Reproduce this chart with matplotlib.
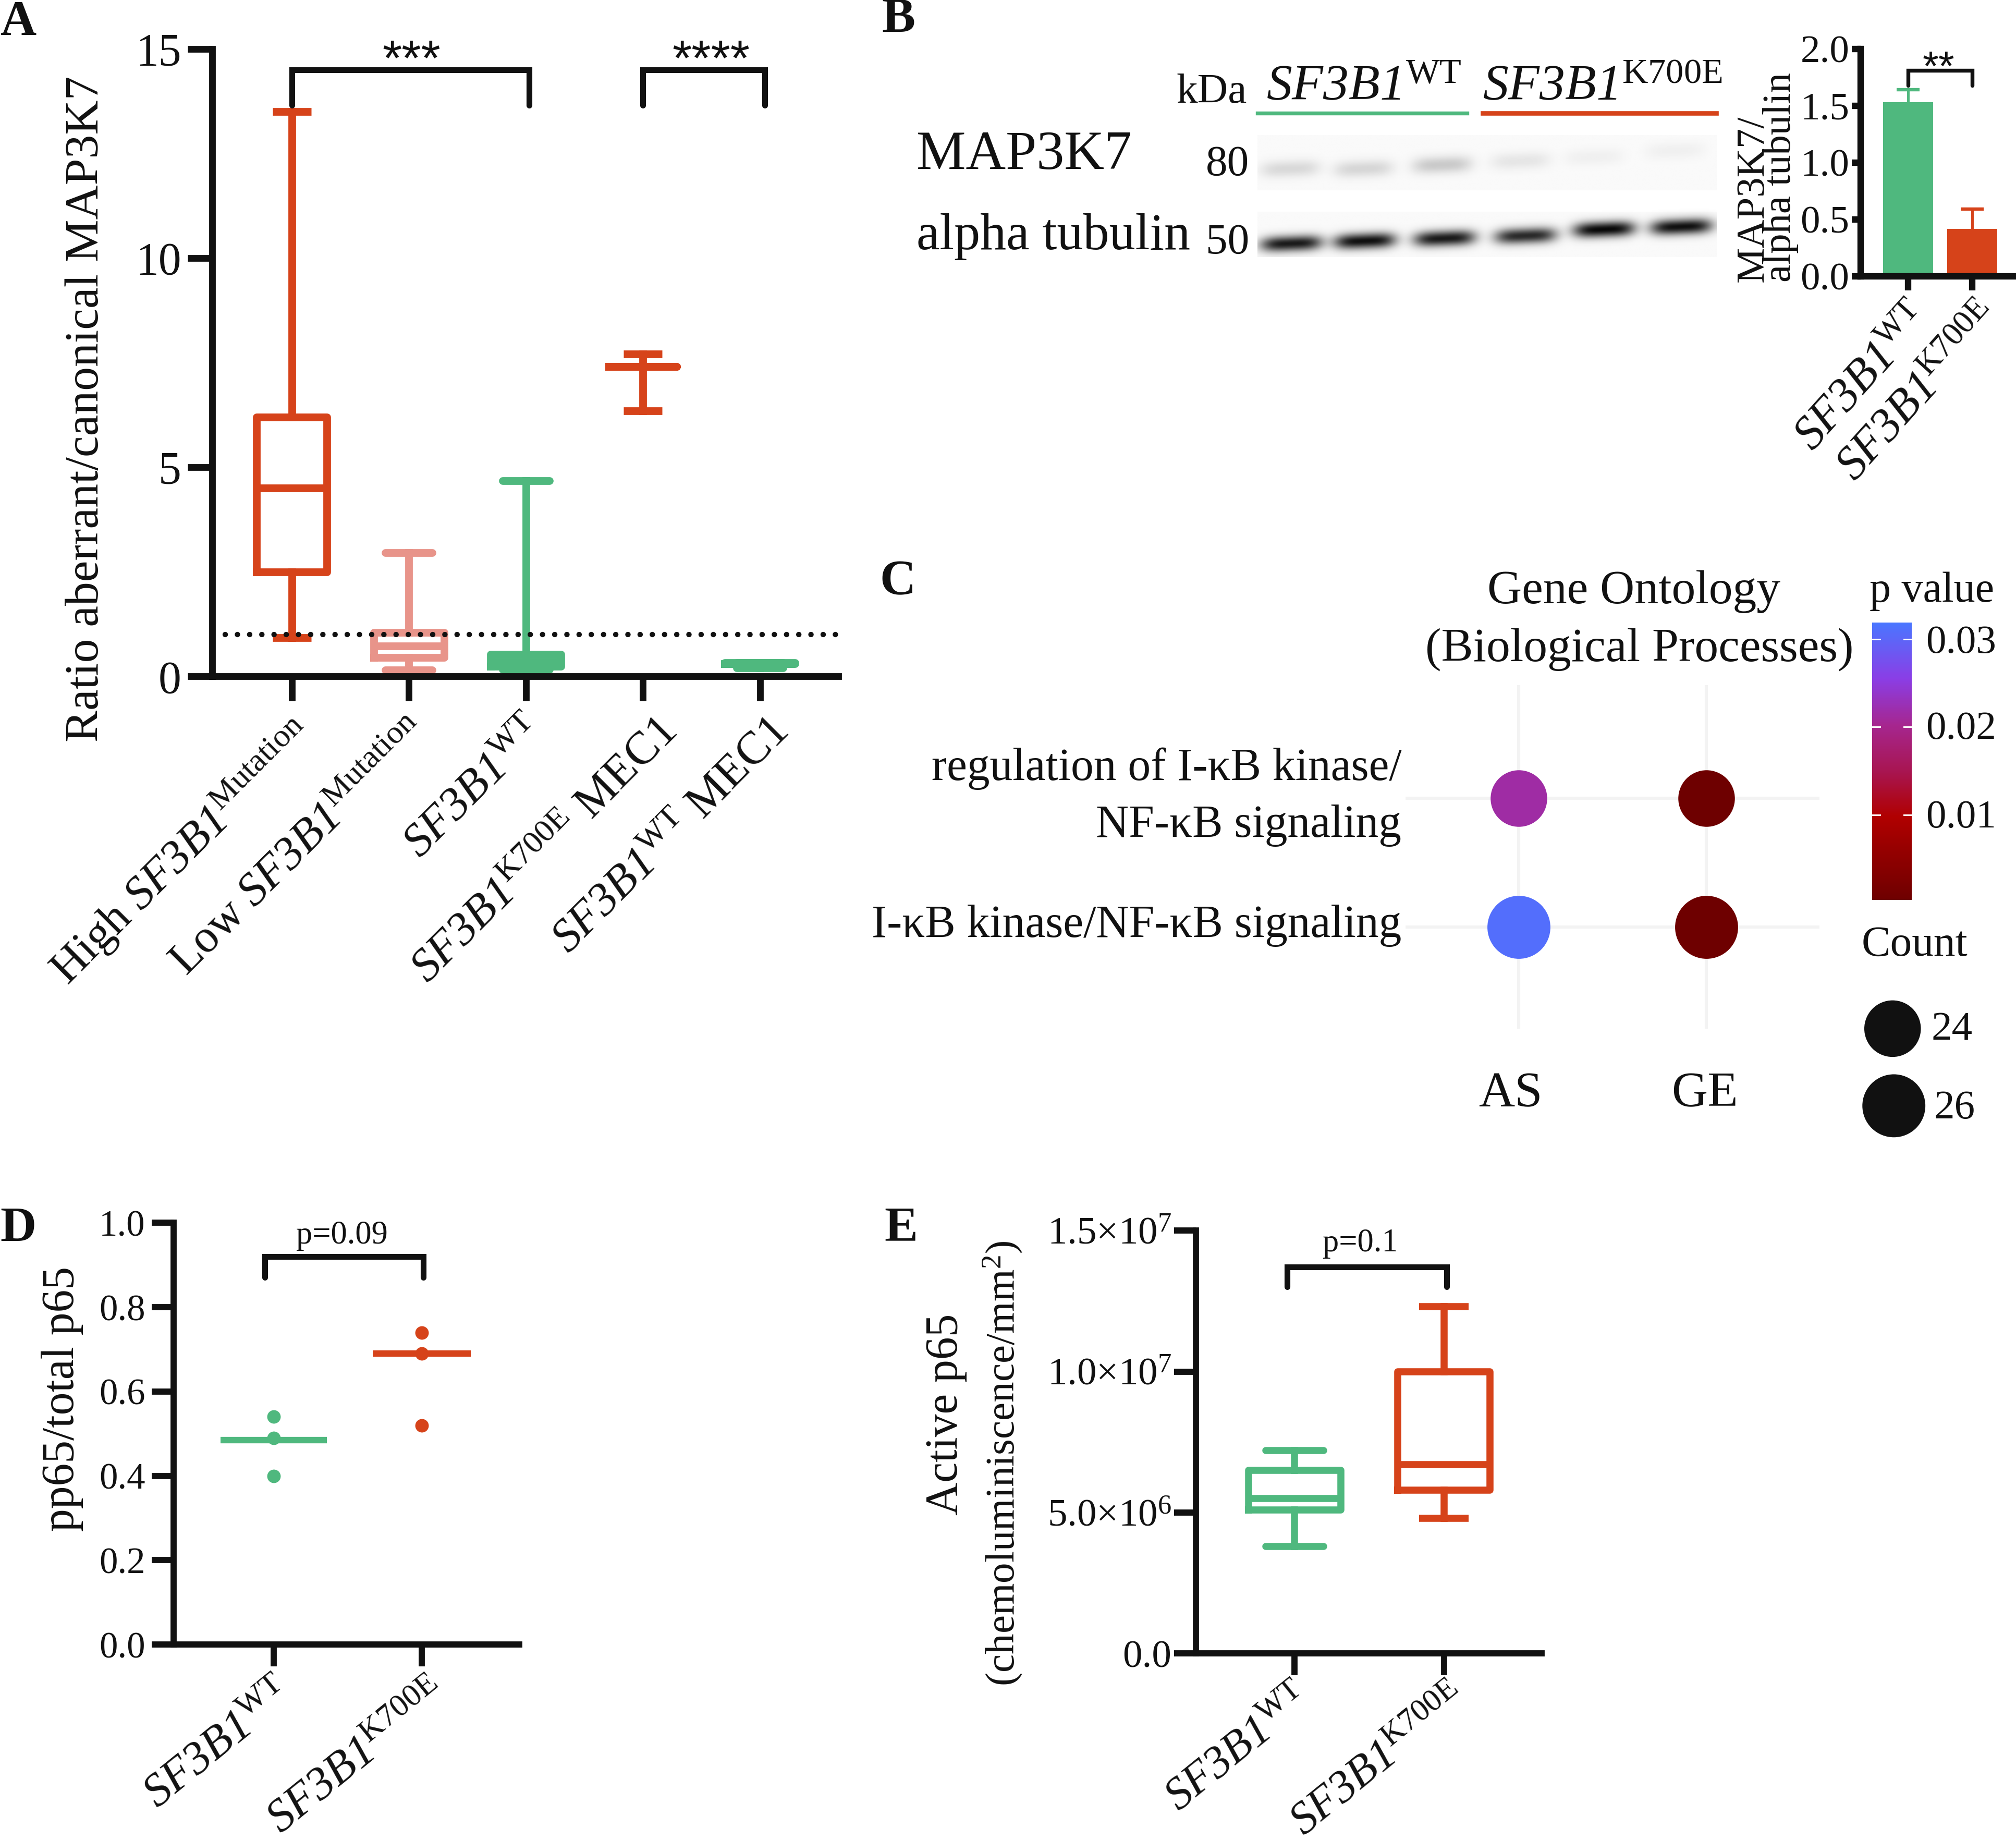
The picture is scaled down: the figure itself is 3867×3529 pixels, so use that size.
import numpy as np
import matplotlib
matplotlib.use("Agg")
import matplotlib.pyplot as plt
from matplotlib.colors import LinearSegmentedColormap, Normalize
from matplotlib.cm import ScalarMappable
from matplotlib.transforms import ScaledTranslation

plt.rcParams['font.family'] = ['Liberation Serif', 'DejaVu Serif']
plt.rcParams['mathtext.fontset'] = 'custom'
plt.rcParams['mathtext.rm'] = 'Liberation Serif'
plt.rcParams['mathtext.it'] = 'Liberation Serif:italic'
plt.rcParams['mathtext.cal'] = 'Liberation Serif:italic'
plt.rcParams['mathtext.bf'] = 'Liberation Serif:bold'

RED = '#d6431a'
GREEN = '#4fb87e'
PINK = '#e8948a'
BLACK = '#111111'

# panel A, box stats: low whisker, q1, median, q3, high whisker
a_labels = [r'High $\mathcal{SF3B1}^{\mathrm{Mutation}}$', r'Low $\mathcal{SF3B1}^{\mathrm{Mutation}}$',
            r'$\mathcal{SF3B1}^{\mathrm{WT}}$', r'$\mathcal{SF3B1}^{\mathrm{K700E}}$ MEC1',
            r'$\mathcal{SF3B1}^{\mathrm{WT}}$ MEC1']
a_low = [0.93, 0.15, 0.17, 6.35, 0.2]
a_q1 = [2.5, 0.45, 0.24, 7.4, 0.3]
a_med = [4.5, 0.72, 0.35, 7.4, 0.3]
a_q3 = [6.2, 1.05, 0.52, 7.4, 0.33]
a_high = [13.5, 2.95, 4.68, 7.7, 0.33]
a_colors = [RED, PINK, GREEN, RED, GREEN]
a_widths = [0.6, 0.6, 0.6, 0.58, 0.6]
a_caps = [0.33, 0.4, 0.4, 0.33, 0.4]

# panel B, densitometry
b_labels = [r'$\mathcal{SF3B1}^{\mathrm{WT}}$', r'$\mathcal{SF3B1}^{\mathrm{K700E}}$']
b_means = [1.53, 0.42]
b_errs = [0.11, 0.17]

# panel B, blot lanes (picture pixels)
map3k7_x = [1003, 1060, 1121, 1182, 1239, 1302]
map3k7_y = [131, 131, 128, 125, 122, 117]
map3k7_int = [0.13, 0.14, 0.19, 0.08, 0.04, 0.04]
tubulin_x = [1004, 1061, 1123, 1186, 1247, 1307]
tubulin_y = [189, 187, 185, 183, 178, 176]
tubulin_int = [0.88, 0.92, 0.88, 0.82, 0.95, 0.92]

# panel C
c_terms = ['regulation of I-κB kinase/\nNF-κB signaling', 'I-κB kinase/NF-κB signaling']
c_groups = ['AS', 'GE']
c_pvals = [[0.0215, 0.0004], [0.031, 0.0004]]
c_counts = [[24, 24], [26, 26]]
c_legend_counts = [24, 26]
c_ticks = [0.01, 0.02, 0.03]

# panel D
d_wt = [0.54, 0.49, 0.40]
d_mut = [0.74, 0.69, 0.52]
d_med = [0.485, 0.69]

# panel E
e_low = [3.8e6, 4.8e6]
e_q1 = [5.1e6, 5.8e6]
e_med = [5.5e6, 6.7e6]
e_q3 = [6.5e6, 1.0e7]
e_high = [7.2e6, 1.23e7]
e_ticks = [0, 5e6, 1e7, 1.5e7]
e_ticklabels = ['0.0', r'5.0×10$^{6}$', r'1.0×10$^{7}$', r'1.5×10$^{7}$']

W, H = 1568.0, 1431.0   # layout units, the picture at reduced size
PX = 2.466 * 72 / 300   # one layout unit in points

fig = plt.figure(figsize=(3867 / 300, 3529 / 300), dpi=300)


def axes_px(left, top, right, bottom):
    return fig.add_axes([left / W, 1 - bottom / H, (right - left) / W, (bottom - top) / H])


def text_px(x, y, s, size, **kw):
    kw.setdefault('ha', 'left')
    kw.setdefault('va', 'center')
    kw.setdefault('color', BLACK)
    return fig.text(x / W, 1 - y / H, s, fontsize=size, **kw)


def style_axes(ax, width=5.0, ticklen=18):
    for side in ['top', 'right']:
        ax.spines[side].set_visible(False)
    for side in ['left', 'bottom']:
        ax.spines[side].set_linewidth(width * PX)
        ax.spines[side].set_color(BLACK)
    ax.tick_params(width=width * PX, length=ticklen * PX, color=BLACK, labelcolor=BLACK)
    ax.patch.set_alpha(0)


def ylabel_px(ax, x, y, s, size, **kw):
    ax.set_ylabel(s, fontsize=size, color=BLACK, **kw)
    ax.yaxis.set_label_coords(x / W, 1 - y / H, transform=fig.transFigure)


def rot_labels(ax, labels, size, angle=45, pad=3.5, shifts=None):
    ax.tick_params(axis='x', pad=pad)
    ax.set_xticklabels(labels, rotation=angle, ha='right', va='top', rotation_mode='anchor', fontsize=size)
    for i, lab in enumerate(ax.get_xticklabels()):
        dx = shifts[i] if shifts else 0
        lab.set_transform(lab.get_transform() + ScaledTranslation(dx * PX / 72, 0, fig.dpi_scale_trans))


def bracket(ax, x0, x1, y, drop, width=3.0):
    ax.plot([x0, x0, x1, x1], [y - drop, y, y, y - drop], color=BLACK, lw=width * PX * 1.5,
            clip_on=False, solid_capstyle='round', solid_joinstyle='miter')


def boxes(ax, low, q1, med, q3, high, colors, widths, caps, lw):
    for i in range(len(low)):
        stats = [dict(whislo=low[i], q1=q1[i], med=med[i], q3=q3[i], whishi=high[i], fliers=[])]
        st = dict(color=colors[i], linewidth=lw * PX)
        cap = dict(color=colors[i], linewidth=lw * PX, solid_capstyle='butt' if colors[i] == RED else 'round')
        ax.bxp(stats, positions=[i], widths=[widths[i]], capwidths=[caps[i]], boxprops=st, medianprops=st,
               whiskerprops=st, capprops=cap, showfliers=False, manage_ticks=False)
    for artist in ax.lines:
        artist.set_clip_on(False)


# ---------- A
ax = axes_px(165, 38, 652, 526)
ax.set_xlim((165 - 227) / 91.0, (652 - 227) / 91.0)
ax.set_ylim(0, 15)
boxes(ax, a_low, a_q1, a_med, a_q3, a_high, a_colors, a_widths, a_caps, 6)
ax.plot([-0.57, 4.67], [1, 1], color=BLACK, lw=4.2 * PX, ls=(0, (0.01, 2.25)), dash_capstyle='round',
        clip_on=False, zorder=5)
style_axes(ax, 5.2, 19)
ax.set_yticks([0, 5, 10, 15])
ax.set_xticks(range(5))
ax.tick_params(axis='y', labelsize=21, pad=3)
rot_labels(ax, a_labels, 21.4, pad=4.5, shifts=[-2, -2, -2, 9, 5])
ylabel_px(ax, 84, 318, 'Ratio aberrant/canonical MAP3K7', 22)
bracket(ax, 0.0, 2.03, 14.5, 0.85)
bracket(ax, 3.0, 4.04, 14.5, 0.85)
text_px(320, 48, '***', 23, ha='center', family='Liberation Sans')
text_px(553, 48, '****', 23, ha='center', family='Liberation Sans')

# ---------- B blot
blot = axes_px(978, 105, 1335, 200)
xs = np.arange(978, 1335)
ys = np.arange(105, 200)
gx, gy = np.meshgrid(xs, ys)
dark = np.zeros(gx.shape)
dark[(gy < 148) | (gy >= 165)] = 0.02
for cx, cy, amp in zip(map3k7_x, map3k7_y, map3k7_int):
    band = np.exp(-((gx - cx) / 23.0) ** 4) * np.exp(-((gy - cy + 0.04 * (gx - cx)) / 6.5) ** 2)
    dark += amp * band
for cx, cy, amp in zip(tubulin_x, tubulin_y, tubulin_int):
    band = np.exp(-((gx - cx) / 24.0) ** 4) * np.exp(-((gy - cy + 0.04 * (gx - cx)) / 6.0) ** 2)
    dark += amp * band
blot.imshow(1 - np.clip(dark, 0, 1), cmap='gray', vmin=0, vmax=1, aspect='auto', interpolation='bilinear')
blot.axis('off')

text_px(915, 72, 'kDa', 19.5)
text_px(985, 68, r'$\mathcal{SF3B1}^{\mathrm{WT}}$', 23.5)
text_px(1153, 68, r'$\mathcal{SF3B1}^{\mathrm{K700E}}$', 23.5)
fig.add_artist(plt.Line2D([978 / W, 1141 / W], [1 - 88 / H] * 2, color=GREEN, lw=3 * PX))
fig.add_artist(plt.Line2D([1153 / W, 1335 / W], [1 - 88 / H] * 2, color=RED, lw=3.5 * PX))
text_px(713, 121, 'MAP3K7', 25.5)
text_px(713, 184, 'alpha tubulin', 24)
text_px(938, 128, '80', 20)
text_px(938, 189, '50', 20)

# ---------- B bars
ax = axes_px(1447, 38, 1568, 215)
ax.set_xlim((1447 - 1484) / 50.0, (1568 - 1484) / 50.0)
ax.set_ylim(0, 2)
ax.bar([0, 1], b_means, width=0.78, color=[GREEN, RED])
for i, col in enumerate([GREEN, RED]):
    eb = ax.errorbar(i, b_means[i], yerr=[[0], [b_errs[i]]], color=col, lw=2 * PX, capsize=9 * PX,
                     capthick=2.6 * PX, fmt='none')
    eb[1][0].set_visible(False)
style_axes(ax, 5, 11)
ax.set_xticks([0, 1])
ax.set_yticks([0, 0.5, 1, 1.5, 2])
ax.set_yticklabels(['0.0', '0.5', '1.0', '1.5', '2.0'])
ax.tick_params(axis='y', labelsize=18, pad=1, length=7 * PX)
rot_labels(ax, b_labels, 21.5, 48, pad=3, shifts=[0, 4])
ylabel_px(ax, 1399, 138, 'MAP3K7/\nalpha tubulin', 18.4, linespacing=0.68, multialignment='left')
bracket(ax, 0.0, 1.0, 1.81, 0.13, 2.0)
text_px(1508, 54, '**', 19, ha='center', family='Liberation Sans')

# ---------- C
ax = axes_px(1093, 533, 1415, 800)
ax.set_xlim(-(1181 - 1093) / 146.0, (1415 - 1181) / 146.0)
ax.set_ylim(1 + (800 - 721) / 100.0, -(621 - 533) / 100.0)
for side in ax.spines.values():
    side.set_visible(False)
ax.grid(True, color='#f3f3f3', lw=2.5 * PX)
ax.set_axisbelow(True)
ax.set_xticks([0, 1])
ax.set_yticks([0, 1])
ax.tick_params(length=0, labelbottom=False, labelleft=False)
cmap = LinearSegmentedColormap.from_list('pv', [(0, '#6e0000'), (0.3, '#b00000'), (0.46, '#a81550'), (0.63, '#a6268f'),
                                                (0.8, '#8a3ee6'), (1, '#4a76ff')])
norm = Normalize(0.0003, 0.0319)
diam = {24: 44, 26: 49}
for r in range(2):
    for c in range(2):
        s = (diam[c_counts[r][c]] * PX) ** 2
        ax.scatter(c, r, s=s, c=[c_pvals[r][c]], cmap=cmap, norm=norm, linewidths=0, zorder=3)

text_px(1271, 460, 'Gene Ontology', 22, ha='center')
text_px(1275, 505, '(Biological Processes)', 22, ha='center')
text_px(1090, 598, c_terms[0].split('\n')[0], 21, ha='right')
text_px(1090, 642, c_terms[0].split('\n')[1], 21, ha='right')
text_px(1090, 720, c_terms[1], 21, ha='right')
text_px(1175, 851, c_groups[0], 23, ha='center')
text_px(1326, 851, c_groups[1], 23, ha='center')

cax = axes_px(1456, 484, 1487, 700)
cb = fig.colorbar(ScalarMappable(norm=norm, cmap=cmap), cax=cax)
cb.outline.set_visible(False)
cb.set_ticks(c_ticks)
cb.set_ticklabels([])
cax.tick_params(length=0)
for t in c_ticks:
    cax.plot([0, 0.2], [t, t], color='white', lw=1.2 * PX, transform=cax.get_yaxis_transform())
    cax.plot([0.8, 1], [t, t], color='white', lw=1.2 * PX, transform=cax.get_yaxis_transform())
text_px(1454, 460, 'p value', 19.7)
text_px(1498, 500, '0.03', 18.5)
text_px(1498, 567, '0.02', 18.5)
text_px(1498, 636, '0.01', 18.5)
text_px(1448, 735, 'Count', 20)

lg = axes_px(1440, 770, 1510, 890)
lg.set_xlim(1440, 1510)
lg.set_ylim(890, 770)
lg.axis('off')
lg.scatter([1472, 1473], [800, 860], s=[(diam[n] * PX) ** 2 for n in c_legend_counts], color=BLACK, linewidths=0)
text_px(1502, 801, str(c_legend_counts[0]), 19)
text_px(1504, 862, str(c_legend_counts[1]), 19)

# ---------- D
ax = axes_px(135, 951, 404, 1279)
ax.set_xlim((135 - 213) / 115.0, (404 - 213) / 115.0)
ax.set_ylim(0, 1)
ax.scatter([0] * len(d_wt), d_wt, s=(10.5 * PX) ** 2, color=GREEN, linewidths=0, zorder=3, clip_on=False)
ax.scatter([1] * len(d_mut), d_mut, s=(10.5 * PX) ** 2, color=RED, linewidths=0, zorder=3, clip_on=False)
ax.hlines(d_med[0], -0.36, 0.36, color=GREEN, lw=5 * PX)
ax.hlines(d_med[1], 0.67, 1.33, color=RED, lw=5 * PX)
style_axes(ax, 4.8, 17)
ax.set_xticks([0, 1])
ax.set_yticks([0, 0.2, 0.4, 0.6, 0.8, 1.0])
ax.tick_params(axis='y', labelsize=17, pad=3)
rot_labels(ax, b_labels, 21.2, 39, pad=3, shifts=[0, 5])
ylabel_px(ax, 65, 1088, 'pp65/total p65', 21)
bracket(ax, -0.06, 1.01, 0.92, 0.05, 3.0)
text_px(266, 961, 'p=0.09', 15, ha='center')

# ---------- E
ax = axes_px(930, 957, 1199, 1286)
ax.set_xlim((930 - 1007) / 116.0, (1199 - 1007) / 116.0)
ax.set_ylim(0, 1.5e7)
boxes(ax, e_low, e_q1, e_med, e_q3, e_high, [GREEN, RED], [0.62, 0.62], [0.39, 0.33], 5.5)
style_axes(ax, 4.8, 17)
ax.set_xticks([0, 1])
ax.set_yticks(e_ticks)
ax.set_yticklabels(e_ticklabels)
ax.tick_params(axis='y', labelsize=18, pad=1)
rot_labels(ax, b_labels, 20.8, 39, pad=1.5, shifts=[-1, 4])
ylabel_px(ax, 752, 1100, 'Active p65', 21)
text_px(780, 1138, '(chemoluminiscence/mm$^{2}$)', 19, rotation=90, ha='center')
bracket(ax, -0.05, 1.02, 1.37e7, 0.07e7, 3.0)
text_px(1058, 967, 'p=0.1', 15, ha='center')

# panel letters
for x, y, letter in [(0, 18, 'A'), (686, 16, 'B'), (684, 453, 'C'), (0, 956, 'D'), (688, 956, 'E')]:
    text_px(x, y, letter, 23, fontweight='bold')

fig.savefig('out.png', dpi=300)
